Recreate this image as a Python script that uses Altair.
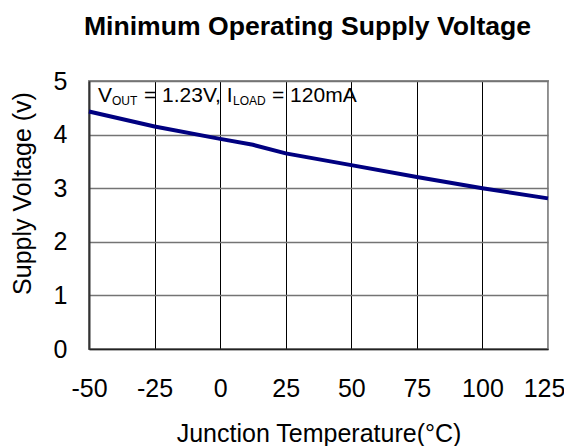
import altair as alt
import pandas as pd

# Data
temps = [-50, -25, 0, 12.5, 25, 50, 75, 100, 125]
volts = [4.43, 4.15, 3.92, 3.81, 3.65, 3.43, 3.21, 3.00, 2.81]

x_ticks = [-50, -25, 0, 25, 50, 75, 100, 125]
y_ticks = [0, 1, 2, 3, 4, 5]

title_text = "Minimum Operating Supply Voltage"
x_title = "Junction Temperature(°C)"
y_title = "Supply Voltage (v)"

# annotation pieces: text, font size, horizontal offset, vertical offset
ann_text = ["V", "OUT", "= 1.23V, I", "LOAD", "= 120mA"]
ann_size = [21, 12, 21, 12, 21]
ann_dx = [9, 23, 55, 144, 183]
ann_dy = [21, 24, 21, 24, 21]

FONT = "Liberation Sans"

df = pd.DataFrame({"t": temps, "v": volts})

xscale = alt.Scale(domain=[-50, 125], nice=False, zero=False)
yscale = alt.Scale(domain=[0, 5], nice=False)

line = alt.Chart(df).mark_line(color="#000080", strokeWidth=4).encode(
    x=alt.X(
        "t:Q",
        scale=xscale,
        axis=alt.Axis(
            values=x_ticks,
            title=x_title,
            labelExpr="'' + datum.value",
            labelFlush=False,
            labelOverlap=False,
            labelOffset=alt.condition("datum.value === 125", alt.value(-4), alt.value(0)),
            grid=True,
            gridColor=alt.condition("datum.value === 125", alt.value("#9a9a9a"), alt.value("#000000")),
            gridWidth=1,
            ticks=False,
            tickSize=0,
            domainColor="#222222",
            domainWidth=1.5,
            labelFont=FONT,
            labelFontSize=25,
            labelColor="#000000",
            labelPadding=27,
            labelBaseline="top",
            titleFont=FONT,
            titleFontSize=25,
            titleFontWeight="normal",
            titleColor="#000000",
            titleBaseline="alphabetic",
            titleY=92,
        ),
    ),
    y=alt.Y(
        "v:Q",
        scale=yscale,
        axis=alt.Axis(
            values=y_ticks,
            title=y_title,
            labelFlush=False,
            labelOverlap=False,
            grid=True,
            gridColor="#747474",
            gridWidth=1.3,
            ticks=False,
            tickSize=0,
            domainColor="#333333",
            domainWidth=2,
            labelFont=FONT,
            labelFontSize=25,
            labelColor="#000000",
            labelPadding=22,
            labelBaseline="middle",
            titleFont=FONT,
            titleFontSize=25,
            titleFontWeight="normal",
            titleColor="#000000",
            titleAngle=270,
            titleAlign="center",
            titleBaseline="alphabetic",
            titleX=-59,
            titleY=112,
        ),
    ),
)

layers = [line]
for txt, sz, dx, dy in zip(ann_text, ann_size, ann_dx, ann_dy):
    tdf = pd.DataFrame({"t": [-50], "v": [5], "label": [txt]})
    layers.append(
        alt.Chart(tdf)
        .mark_text(
            align="left",
            baseline="alphabetic",
            font=FONT,
            fontSize=sz,
            color="#000000",
            dx=dx,
            dy=dy,
        )
        .encode(x=alt.X("t:Q", scale=xscale), y=alt.Y("v:Q", scale=yscale), text="label:N")
    )

# chart title as a text layer centred above the plot
title_df = pd.DataFrame({"t": [37.5], "v": [5], "label": [title_text]})
layers.append(
    alt.Chart(title_df)
    .mark_text(
        align="center",
        baseline="alphabetic",
        font=FONT,
        fontSize=26.6,
        fontWeight="bold",
        color="#000000",
        dx=-11,
        dy=-46,
    )
    .encode(x=alt.X("t:Q", scale=xscale), y=alt.Y("v:Q", scale=yscale), text="label:N")
)

chart = (
    alt.layer(*layers)
    .properties(
        width=459,
        height=268,
        autosize=alt.AutoSizeParams(type="none"),
        padding={"left": 81, "top": 73, "right": 16, "bottom": 97},
        background="#ffffff",
    )
    .configure_view(stroke="#8c8c8c", strokeWidth=2)
)

chart.save("out.html", embed_options={"renderer": "svg", "actions": False})
